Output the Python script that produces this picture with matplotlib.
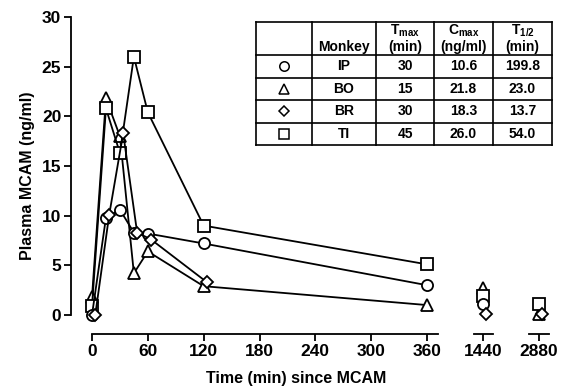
import numpy as np
import matplotlib
matplotlib.use("Agg")
import matplotlib.pyplot as plt

plt.rcParams['font.family'] = ['Liberation Sans', 'DejaVu Sans']
plt.rcParams['font.weight'] = 'bold'
plt.rcParams['mathtext.fontset'] = 'custom'
plt.rcParams['mathtext.rm'] = 'Liberation Sans:bold'
plt.rcParams['mathtext.bf'] = 'Liberation Sans:bold'

# data
times = [0, 15, 30, 45, 60, 120, 360]
late_times = [1440, 2880]
ip = [0.0, 9.8, 10.6, 8.3, 8.2, 7.2, 3.0]
bo = [1.8, 21.8, 18.0, 4.2, 6.4, 2.9, 1.0]
br = [0.0, 10.1, 18.3, 8.3, 7.6, 3.3, np.nan]
ti = [0.9, 20.8, 16.3, 26.0, 20.4, 9.0, 5.1]
ip_late = [1.1, np.nan]
bo_late = [2.7, 0.1]
br_late = [0.1, 0.1]
ti_late = [1.9, 1.1]

monkeys = ['IP', 'BO', 'BR', 'TI']
tmax = ['30', '15', '30', '45']
cmax = ['10.6', '21.8', '18.3', '26.0']
thalf = ['199.8', '23.0', '13.7', '54.0']

xticks = [0, 60, 120, 180, 240, 300, 360]
yticks = [0, 5, 10, 15, 20, 25, 30]

# style per series (drawing order = z order)
series = [
    ('BO', bo, bo_late, '^', 8.5, 0.0),
    ('TI', ti, ti_late, 's', 8.5, 0.0),
    ('IP', ip, ip_late, 'o', 8.0, 0.0),
    ('BR', br, br_late, 'D', 6.5, 3.5),
]

W, H = 565, 389
fig = plt.figure(figsize=(W / 100, H / 100), dpi=100)


def box(x0, x1, y0=17, y1=334):
    return [x0 / W, 1 - y1 / H, (x1 - x0) / W, (y1 - y0) / H]


pxmin = (427 - 92) / 360.0
ylo = -(334 - 315) / ((315 - 17) / 30.0)

ax = fig.add_axes(box(71, 438))
ax2 = fig.add_axes(box(474, 493))
ax3 = fig.add_axes(box(529, 549))

ax.set_xlim((71 - 92) / pxmin, (438 - 92) / pxmin)
ax2.set_xlim(1440 - 9 / pxmin, 1440 + 10 / pxmin)
ax3.set_xlim(2880 - 10 / pxmin, 2880 + 10 / pxmin)
for a in (ax, ax2, ax3):
    a.set_ylim(ylo, 30)
    a.spines['top'].set_visible(False)
    a.spines['right'].set_visible(False)
    a.spines['bottom'].set_linewidth(1.3)
    a.spines['left'].set_linewidth(1.3)
    a.patch.set_alpha(0)
    a.tick_params(width=1.3, length=5, labelsize=12.5, pad=2)
for a in (ax2, ax3):
    a.spines['left'].set_visible(False)
    a.set_yticks([])

ax.spines['left'].set_bounds(0, 30)
ax.spines['bottom'].set_bounds(0, (438 - 92) / pxmin)
ax.set_xticks(xticks)
ax.set_yticks(yticks)
ax2.set_xticks([1440])
ax3.set_xticks([2880])
for a in (ax, ax2, ax3):
    for lab in a.get_xticklabels() + a.get_yticklabels():
        lab.set_fontweight('bold')

for name, early, late, mk, ms, nudge in series:
    ax.plot(np.array(times) + nudge, early, color='black', lw=1.3,
            marker=mk, ms=ms, mfc='white', mec='black', mew=1.3, clip_on=False)
    ax2.plot(late_times[0] + nudge, late[0], ls='none', marker=mk, ms=ms,
             mfc='white', mec='black', mew=1.3, clip_on=False)
    ax3.plot(late_times[1] + nudge, late[1], ls='none', marker=mk, ms=ms,
             mfc='white', mec='black', mew=1.3, clip_on=False)

ax.set_ylabel('Plasma MCAM (ng/ml)', fontsize=11.5, fontweight='bold', labelpad=5)
fig.text(296 / W, 1 - 379 / H, 'Time (min) since MCAM', ha='center', va='center',
         fontsize=11.5, fontweight='bold')

# table
tab = fig.add_axes(box(256, 552, 22, 145))
tab.set_xlim(0, 296)
tab.set_ylim(123, 0)
tab.axis('off')
cols = [0, 56, 120, 178, 237, 296]
rows = [0, 33, 55.5, 78, 100.5, 123]
for c in cols:
    tab.plot([c, c], [0, 123], color='black', lw=1.2, clip_on=False)
for r in rows:
    tab.plot([0, 296], [r, r], color='black', lw=1.2, clip_on=False)

cx = [(cols[i] + cols[i + 1]) / 2 for i in range(5)]
fs = 10
tab.text(cx[1], 29.5, 'Monkey', ha='center', va='baseline', fontsize=fs, fontweight='bold')
heads = [('T$_{\\rm max}$', '(min)'), ('C$_{\\rm max}$', '(ng/ml)'), ('T$_{1/2}$', '(min)')]
for i, (h1, h2) in enumerate(heads):
    tab.text(cx[i + 2], 13, h1, ha='center', va='baseline', fontsize=fs, fontweight='bold')
    tab.text(cx[i + 2], 29.5, h2, ha='center', va='baseline', fontsize=fs, fontweight='bold')

order = ['IP', 'BO', 'BR', 'TI']
marks = {s[0]: (s[3], s[4]) for s in series}
for i, name in enumerate(order):
    yc = (rows[i + 1] + rows[i + 2]) / 2
    mk, ms = marks[name]
    tab.plot(cx[0], yc, marker=mk, ms=ms * 0.85, mfc='white', mec='black', mew=1.1, clip_on=False)
    j = monkeys.index(name)
    for k, val in enumerate([monkeys[j], tmax[j], cmax[j], thalf[j]]):
        tab.text(cx[k + 1], yc, val, ha='center', va='center', fontsize=fs, fontweight='bold')

fig.savefig('out.png', dpi=100)
